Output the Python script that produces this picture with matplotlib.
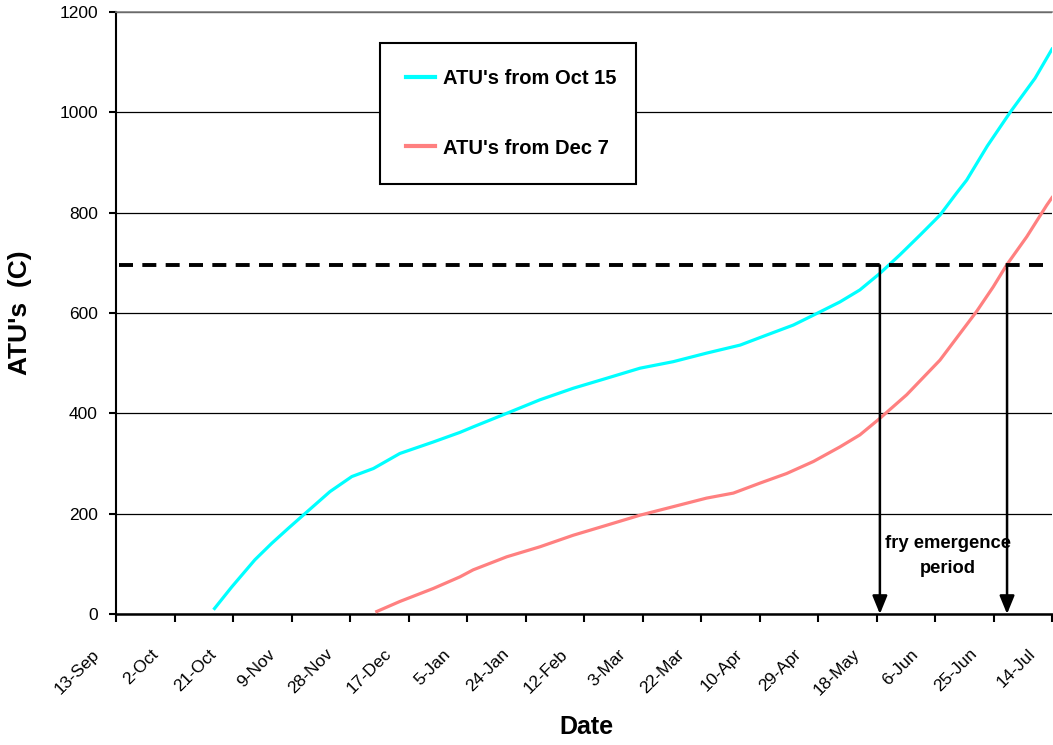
import matplotlib
matplotlib.use("Agg")
import matplotlib.pyplot as plt
from matplotlib.transforms import ScaledTranslation

# ---- data (x = days since 13-Sep) ----
tick_days = [0, 19, 38, 57, 76, 95, 114, 133, 152, 171, 190, 209, 228, 247, 266, 285, 304]
tick_labels = ["13-Sep", "2-Oct", "21-Oct", "9-Nov", "28-Nov", "17-Dec", "5-Jan", "24-Jan",
               "12-Feb", "3-Mar", "22-Mar", "10-Apr", "29-Apr", "18-May", "6-Jun", "25-Jun", "14-Jul"]

oct15_days = [32, 37.6, 45.1, 50.6, 56, 60.8, 69.5, 76.6, 83.6, 92.2, 103.1, 111.7, 116, 126.9,
              137.7, 148.5, 159.4, 170.2, 181, 191.8, 202.7, 211.3, 220, 227.6, 235.1, 241.6,
              248.1, 254.6, 261.1, 267.6, 273, 276.3, 283, 290.4, 298.5, 304]
oct15_atu = [11, 54, 108, 141, 171, 197, 244, 274, 290, 320, 343, 362, 373, 400,
             427, 450, 470, 490, 503, 520, 536, 556, 576, 599, 622, 646,
             679, 716, 755, 795, 839, 865, 933, 1000, 1068, 1126]

dec7_days = [84.7, 92.2, 103.1, 111.7, 116, 126.9, 137.7, 148.5, 159.4, 170.2, 181, 191.8,
             200.5, 209.2, 217.8, 226.5, 235.1, 241.6, 248.1, 256.8, 267.6, 274.1, 279.5,
             284.9, 289.3, 295.8, 302.3, 304]
dec7_atu = [5, 25, 51, 74, 88, 114, 134, 157, 177, 197, 214, 231,
            241, 261, 280, 304, 333, 357, 390, 437, 506, 559, 603,
            652, 696, 752, 815, 830]

threshold = 695
emergence_days = [248.1, 289.4]
series_labels = ["ATU's from Oct 15", "ATU's from Dec 7"]

# ---- figure ----
fig = plt.figure(figsize=(10.53, 7.45), dpi=100)
ax = fig.add_axes([116/1053, 1 - 614/745, (1052 - 116)/1053, (614 - 12)/745])

ax.set_xlim(0, 304)
ax.set_ylim(0, 1200)

ax.set_yticks(range(0, 1201, 200))
ax.yaxis.grid(True, color="black", linewidth=0.9, zorder=0)
ax.set_axisbelow(True)

ax.plot(oct15_days, oct15_atu, color="#00FFFF", linewidth=2.3, label=series_labels[0], zorder=3)
ax.plot(dec7_days, dec7_atu, color="#FF8080", linewidth=2.3, label=series_labels[1], zorder=3)

ax.hlines(threshold, 1, 304, colors="black", linewidth=2.8, linestyles=(0, (3.6, 2.4)), zorder=4)

for d in emergence_days:
    ax.annotate("", xy=(d, 0), xytext=(d, threshold),
                arrowprops=dict(arrowstyle="-|>,head_length=1.1,head_width=0.45",
                                color="black", linewidth=1.8, shrinkA=0, shrinkB=0),
                zorder=5)

ax.text(270.2, 115, "fry emergence\nperiod", ha="center", va="center",
        fontsize=13.2, fontweight="bold", family="Liberation Sans", linespacing=1.6, zorder=6)

# spines
ax.spines["right"].set_visible(False)
ax.spines["top"].set_color("#808080")
ax.spines["top"].set_linewidth(1.2)
ax.spines["left"].set_linewidth(1.5)
ax.spines["bottom"].set_linewidth(1.8)

ax.set_xticks(tick_days)
ax.set_xticklabels(tick_labels)
ax.tick_params(axis="x", direction="out", length=5.5, width=1.5, pad=0)
ax.tick_params(axis="y", direction="out", length=5, width=1.5, labelsize=12.5, pad=8)
for lbl in ax.get_yticklabels():
    lbl.set_family("Liberation Sans")

offset = ScaledTranslation(-19/100, -30/100, fig.dpi_scale_trans)
for lbl in ax.get_xticklabels():
    lbl.set_rotation(45)
    lbl.set_ha("right")
    lbl.set_va("center")
    lbl.set_rotation_mode("anchor")
    lbl.set_family(["Liberation Sans Narrow", "Liberation Sans"])
    lbl.set_fontsize(12.5)
    lbl.set_transform(lbl.get_transform() + offset)

fig.text(20/1053, 1 - 313/745, "ATU's  (C)", rotation=90, ha="center", va="center",
         fontsize=19, fontweight="bold", family="Liberation Sans")
fig.text(586/1053, 1 - 727/745, "Date", ha="center", va="center",
         fontsize=18, fontweight="bold", family="Liberation Sans")

leg = ax.legend(loc="upper left",
                bbox_to_anchor=((380 - 116)/936, (614 - 43)/602, (636 - 380)/936, 0.0),
                mode="expand", frameon=True, fancybox=False, edgecolor="black",
                framealpha=1.0, prop=dict(family="Liberation Sans", weight="bold", size=14.5),
                handlelength=1.45, handletextpad=0.4, labelspacing=2.5, borderpad=1.3,
                borderaxespad=0)
leg.get_frame().set_linewidth(1.5)
for h in leg.get_lines():
    h.set_linewidth(3)
leg.set_zorder(10)

fig.savefig("out.png", dpi=100)
